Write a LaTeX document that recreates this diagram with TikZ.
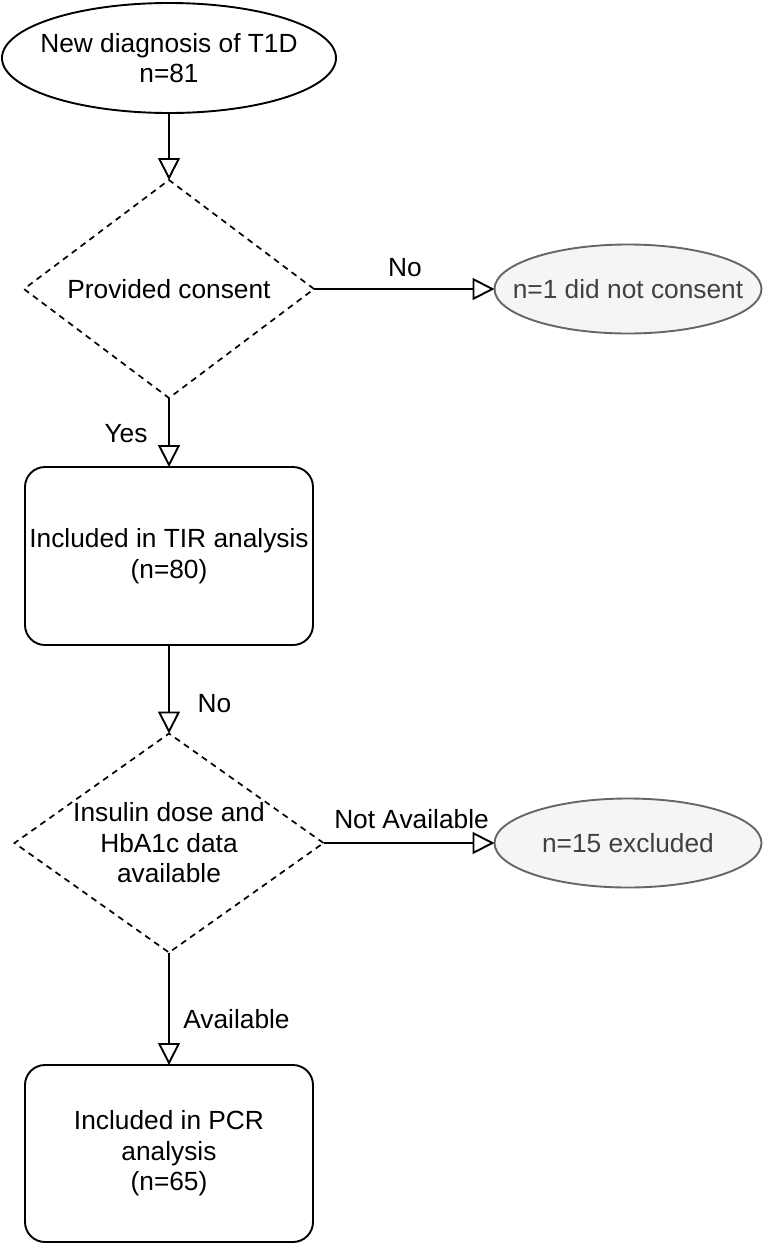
\documentclass[tikz,border=0pt]{standalone}
\usepackage{fontspec}
\setmainfont{Liberation Sans}
\usetikzlibrary{shapes.geometric,arrows.meta}
\definecolor{greyfill}{HTML}{F5F5F5}
\definecolor{greyline}{HTML}{666666}
\definecolor{greytext}{HTML}{404040}
\begin{document}
\begin{tikzpicture}[x=1pt,y=-1pt,
  font=\fontsize{26.3}{30.5}\selectfont,
  every node/.style={inner sep=0pt, outer sep=0pt},
  conn/.style={draw=black, line width=1.9pt,
    -{Triangle[open,length=22pt,width=22pt,line width=1.9pt]}},
  startnode/.style={ellipse, draw=black, line width=1.9pt,
    minimum width=334pt, minimum height=110pt},
  exitnode/.style={ellipse, draw=greyline, fill=greyfill,
    line width=1.9pt, minimum width=267pt, minimum height=89pt},
  exittext/.style={text=greytext},
  decision/.style={diamond, draw=black, line width=1.7pt,
    dash pattern=on 6pt off 5pt},
  stepbox/.style={rectangle, draw=black, line width=1.9pt,
    rounded corners=20pt, minimum width=288pt, align=center},
  lbl/.style={anchor=base}
]
\useasboundingbox (0,0) rectangle (764,1245);

\node[startnode, label={[align=center]center:New diagnosis of T1D\\n=81}]
  (start) at (169,58) {};

\node[decision, minimum width=290pt, minimum height=218pt,
  label={[align=center]center:Provided consent}] (d1) at (169,289) {};

\node[exitnode, label={[exittext]center:n=1 did not consent}]
  (x1) at (628,289) {};

\node[stepbox, minimum height=178pt] (b1) at (169,556)
  {Included in TIR analysis\\(n=80)};

\node[decision, minimum width=309pt, minimum height=219pt,
  label={[align=center]center:Insulin dose and\\HbA1c data\\available}] (d2) at (169,843) {};

\node[exitnode, label={[exittext]center:n=15 excluded}]
  (x2) at (628,843) {};

\node[stepbox, minimum height=177pt] (b2) at (169,1153.5)
  {Included in PCR\\analysis\\(n=65)};

\draw[conn] (start.south) -- (d1.north);
\draw[conn] (d1.east) -- (x1.west);
\draw[conn] (d1.south) -- (b1.north);
\draw[conn] (b1.south) -- (d2.north);
\draw[conn] (d2.east) -- (x2.west);
\draw[conn] (d2.south) -- (b2.north);

\node[lbl] (lno1) at (405,276) {No};
\node[lbl] (lyes) at (126,442) {Yes};
\node[lbl] (lno2) at (214.5,712) {No};
\node[lbl] (lna) at (411.5,828) {Not Available};
\node[lbl] (lav) at (236.5,1028) {Available};
\end{tikzpicture}
\end{document}
